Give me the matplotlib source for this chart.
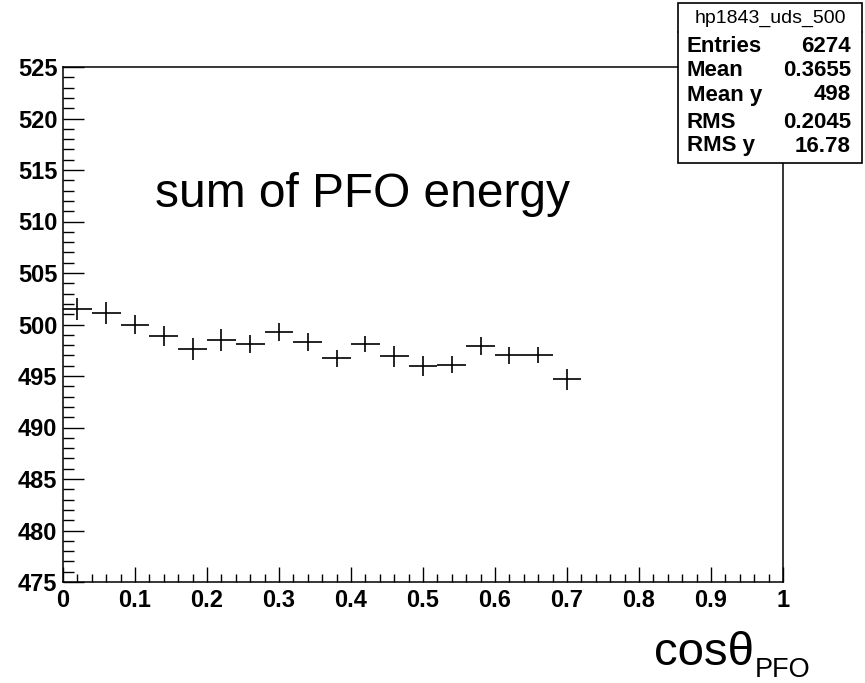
import numpy as np
import matplotlib.pyplot as plt
from matplotlib.ticker import MultipleLocator
from matplotlib.patches import Rectangle

plt.rcParams['font.family'] = ['Liberation Sans', 'DejaVu Sans']

# データ (bin中心, 平均値, 誤差)
bin_width = 0.04
x_centers = [0.02, 0.06, 0.10, 0.14, 0.18, 0.22, 0.26, 0.30, 0.34,
             0.38, 0.42, 0.46, 0.50, 0.54, 0.58, 0.62, 0.66, 0.70]
y_mean = [501.5, 501.15, 500.0, 498.9, 497.65, 498.5, 498.1, 499.3, 498.3,
          496.7, 498.1, 496.9, 496.0, 496.1, 497.9, 497.0, 497.0, 494.7]
y_err = [1.05, 1.08, 0.9, 0.95, 1.08, 1.03, 0.9, 0.87, 0.92,
         0.87, 0.81, 1.0, 0.99, 0.84, 0.87, 0.86, 0.78, 1.02]
x_ticklabels = ['0', '0.1', '0.2', '0.3', '0.4', '0.5', '0.6', '0.7',
                '0.8', '0.9', '1']

# 統計ボックス
stats_title = 'hp1843_uds_500'
stats_names = ['Entries', 'Mean', 'Mean y', 'RMS', 'RMS y']
stats_values = ['6274', '0.3655', '498', '0.2045', '16.78']

fig = plt.figure(figsize=(8.65, 6.83), dpi=100)
ax = fig.add_axes([63/865, 1-582/683, 720/865, 515/683])

ax.errorbar(x_centers, y_mean, xerr=bin_width/2, yerr=y_err, fmt='none',
            ecolor='black', elinewidth=1.2, capsize=0)

ax.set_xlim(0, 1)
ax.set_ylim(475, 525)
ax.xaxis.set_minor_locator(MultipleLocator(0.02))
ax.yaxis.set_major_locator(MultipleLocator(5))
ax.yaxis.set_minor_locator(MultipleLocator(1))
ax.set_xticks(np.arange(0, 1.01, 0.1))
ax.set_xticklabels(x_ticklabels, fontweight='bold', fontsize=17)
for lab in ax.get_yticklabels():
    lab.set_fontweight('bold')
    lab.set_fontsize(17)

ax.tick_params(which='both', direction='in', top=False, right=False)
ax.tick_params(axis='y', which='major', length=15, width=1.0, pad=4)
ax.tick_params(axis='y', which='minor', length=8, width=1.0)
ax.tick_params(axis='x', which='major', length=11, width=1.0, pad=5)
ax.tick_params(axis='x', which='minor', length=6, width=1.0)
for sp in ax.spines.values():
    sp.set_linewidth(1.1)

ax.text(0.128, 512.6, 'sum of PFO energy', fontsize=34.5, va='center', ha='left')

# x軸ラベル
fig.text(754/865, 1-665/683, 'cos\u03b8', fontsize=34, ha='right', va='baseline')
fig.text(755/865, 1-677/683, 'PFO', fontsize=19.5, ha='left', va='baseline')

# 統計ボックス描画
bx0, bx1 = 678/865, 862/865
by_top, by_bot, by_sep = 1-3/683, 1-163/683, 1-32/683
fig.patches.append(Rectangle((bx0, by_bot), bx1-bx0, by_top-by_bot,
                             transform=fig.transFigure, facecolor='white',
                             edgecolor='black', linewidth=1.2, zorder=5))
fig.add_artist(plt.Line2D([bx0, bx1], [by_sep, by_sep],
                          transform=fig.transFigure, color='black', linewidth=1.2))
fig.text((bx0+bx1)/2, 1-18/683, stats_title, fontsize=14, ha='center',
         va='center', zorder=6)
row_y = [46, 71, 95, 122, 146]
for name, val, yy in zip(stats_names, stats_values, row_y):
    fig.text(687/865, 1-yy/683, name, fontsize=16, fontweight='bold',
             ha='left', va='center', zorder=6)
    fig.text(851/865, 1-yy/683, val, fontsize=16, fontweight='bold',
             ha='right', va='center', zorder=6)

fig.savefig('out.png', dpi=100, facecolor='white')
